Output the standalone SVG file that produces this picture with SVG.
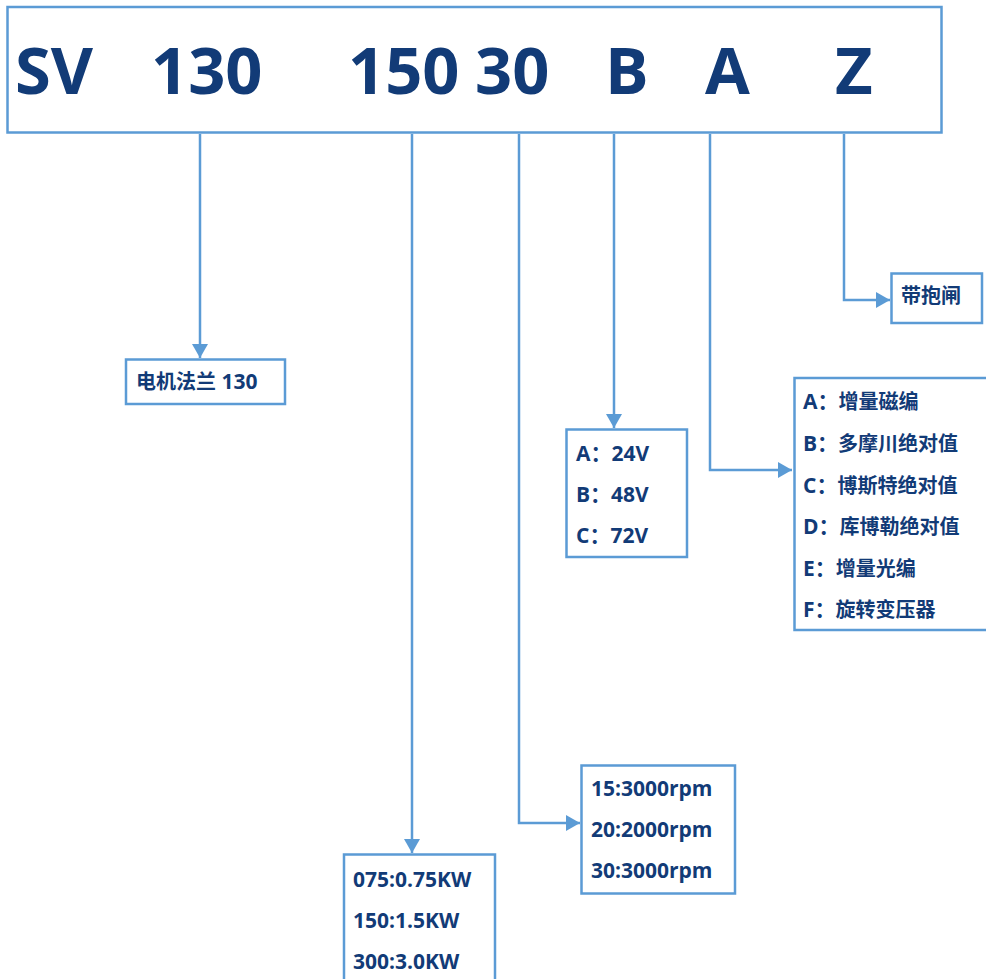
<svg xmlns="http://www.w3.org/2000/svg" width="986" height="979" viewBox="0 0 986 979">
<defs>
<style>
.box{fill:#fff;stroke:#5B9BD5;stroke-width:2.5}
.ln{fill:none;stroke:#5B9BD5;stroke-width:2.5}
.big{font-family:"Open Sans","Noto Sans",sans-serif;font-weight:bold;font-size:65px;fill:#123B77}
.t{font-family:"Open Sans","Noto Sans CJK SC",sans-serif;font-weight:bold;font-size:21px;fill:#123B77}
.c{font-size:20px}
</style>
<marker id="ah" markerWidth="15" markerHeight="16" refX="14" refY="8" orient="auto" markerUnits="userSpaceOnUse">
<path d="M0,0 L14,8 L0,16 Z" fill="#5B9BD5"/>
</marker>
</defs>
<rect width="986" height="979" fill="#fff"/>
<g id="main">
<rect class="box" x="7.5" y="7" width="934" height="125.5"/>
<text class="big" x="15" y="94">SV</text>
<text class="big" x="151" y="94">130</text>
<text class="big" x="348" y="94">150</text>
<text class="big" x="475" y="94">30</text>
<text class="big" x="605" y="94">B</text>
<text class="big" x="705" y="94">A</text>
<text class="big" x="835" y="94">Z</text>
</g>
<g id="connectors">
<path class="ln" d="M200,134 V358" marker-end="url(#ah)"/>
<path class="ln" d="M412,134 V853" marker-end="url(#ah)"/>
<path class="ln" d="M519,134 V823 H580" marker-end="url(#ah)"/>
<path class="ln" d="M614,134 V428" marker-end="url(#ah)"/>
<path class="ln" d="M710,134 V470 H792" marker-end="url(#ah)"/>
<path class="ln" d="M844,134 V300 H890" marker-end="url(#ah)"/>
</g>
<g id="flange">
<rect class="box" x="126" y="359.5" width="159" height="44.5"/>
<text class="t" x="136" y="389"><tspan class="c">电机法兰</tspan> 130</text>
</g>
<g id="brake">
<rect class="box" x="891.5" y="273.5" width="90.5" height="49.5"/>
<text class="t c" x="901" y="303">带抱闸</text>
</g>
<g id="voltage">
<rect class="box" x="566.5" y="429.5" width="120.5" height="127.5"/>
<text class="t" x="576" y="461">A：24V</text>
<text class="t" x="576" y="502">B：48V</text>
<text class="t" x="576" y="543">C：72V</text>
</g>
<g id="encoder">
<rect class="box" x="794.5" y="378" width="195" height="252"/>
<text class="t" x="803" y="409">A：<tspan class="c">增量磁编</tspan></text>
<text class="t" x="803" y="451">B：<tspan class="c">多摩川绝对值</tspan></text>
<text class="t" x="803" y="493">C：<tspan class="c">博斯特绝对值</tspan></text>
<text class="t" x="803" y="534">D：<tspan class="c">库博勒绝对值</tspan></text>
<text class="t" x="803" y="576">E：<tspan class="c">增量光编</tspan></text>
<text class="t" x="803" y="617">F：<tspan class="c">旋转变压器</tspan></text>
</g>
<g id="speed">
<rect class="box" x="581.5" y="765.5" width="153.5" height="128"/>
<text class="t" x="591" y="796">15:3000rpm</text>
<text class="t" x="591" y="837">20:2000rpm</text>
<text class="t" x="591" y="878">30:3000rpm</text>
</g>
<g id="power">
<rect class="box" x="344" y="854.5" width="151" height="140"/>
<text class="t" x="353" y="887">075:0.75KW</text>
<text class="t" x="353" y="928">150:1.5KW</text>
<text class="t" x="353" y="969">300:3.0KW</text>
</g>
</svg>
